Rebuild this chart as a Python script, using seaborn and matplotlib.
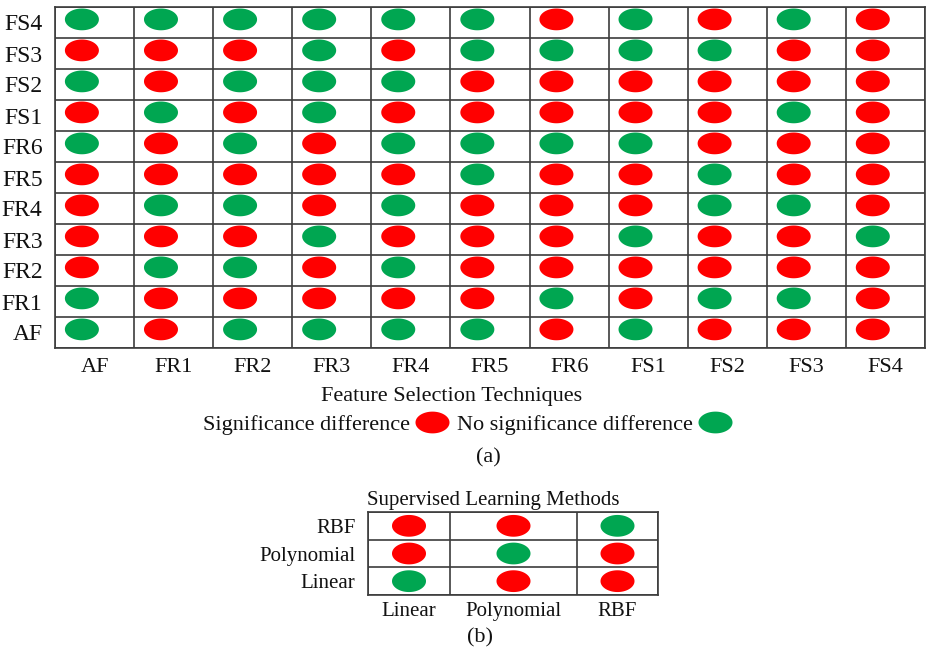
import numpy as np
import pandas as pd
import seaborn as sns
import matplotlib.pyplot as plt
from matplotlib.path import Path
from matplotlib.lines import Line2D

# feature selection techniques (same order on both axes, bottom to top on y)
techniques = ['AF', 'FR1', 'FR2', 'FR3', 'FR4', 'FR5', 'FR6', 'FS1', 'FS2', 'FS3', 'FS4']

# 1 = significance difference (red), 0 = no significance difference (green)
# rows go from AF (bottom) to FS4 (top), columns AF .. FS4
sig_a = [
    [0, 1, 0, 0, 0, 0, 1, 0, 1, 1, 1],  # AF
    [0, 1, 1, 1, 1, 1, 0, 1, 0, 0, 1],  # FR1
    [1, 0, 0, 1, 0, 1, 1, 1, 1, 1, 1],  # FR2
    [1, 1, 1, 0, 1, 1, 1, 0, 1, 1, 0],  # FR3
    [1, 0, 0, 1, 0, 1, 1, 1, 0, 0, 1],  # FR4
    [1, 1, 1, 1, 1, 0, 1, 1, 0, 1, 1],  # FR5
    [0, 1, 0, 1, 0, 0, 0, 0, 1, 1, 1],  # FR6
    [1, 0, 1, 0, 1, 1, 1, 1, 1, 0, 1],  # FS1
    [0, 1, 0, 0, 0, 1, 1, 1, 1, 1, 1],  # FS2
    [1, 1, 1, 0, 1, 0, 0, 0, 0, 1, 1],  # FS3
    [0, 0, 0, 0, 0, 0, 1, 0, 1, 0, 1],  # FS4
]

# supervised learning methods, rows Linear (bottom) .. RBF (top)
methods = ['Linear', 'Polynomial', 'RBF']
sig_b = [
    [0, 1, 1],  # Linear
    [1, 0, 1],  # Polynomial
    [1, 1, 0],  # RBF
]

labels = {1: 'Significance difference', 0: 'No significance difference'}
colors = {'Significance difference': '#ff0000', 'No significance difference': '#00a651'}

sns.set_style('white')
plt.rcParams['font.family'] = ['Liberation Serif', 'DejaVu Serif']
plt.rcParams['text.color'] = '#111111'
plt.rcParams['xtick.color'] = '#111111'
plt.rcParams['ytick.color'] = '#111111'

# ellipse shaped marker
t = np.linspace(0, 2 * np.pi, 80)
ellipse = Path(np.column_stack([np.cos(t), 0.64 * np.sin(t)]), closed=True)
grid_col = '#3c3c3c'

fig = plt.figure(figsize=(9.27, 6.59), dpi=100)

# ---- (a) feature selection techniques grid ----
df_a = pd.DataFrame([(i, j, labels[sig_a[j][i]]) for j in range(len(techniques))
                     for i in range(len(techniques))], columns=['col', 'row', 'result'])
df_a['x'] = df_a['col'] + 0.34
df_a['y'] = df_a['row'] + 0.6

ax_a = fig.add_axes([55 / 927, 1 - 348 / 659, 870 / 927, 341 / 659])
sns.scatterplot(data=df_a, x='x', y='y', hue='result', palette=colors, marker=ellipse,
                s=600, linewidth=0, legend=False, ax=ax_a)
n = len(techniques)
ax_a.set_xlim(0, n)
ax_a.set_ylim(0, n)
ax_a.set_xticks(np.arange(n) + 0.5, techniques, fontsize=16)
ax_a.set_yticks(np.arange(n) + 0.5, techniques, fontsize=17)
ax_a.set_xticks(np.arange(n + 1), minor=True)
ax_a.set_yticks(np.arange(n + 1), minor=True)
ax_a.grid(which='major', visible=False)
ax_a.grid(which='minor', color=grid_col, lw=1.2)
ax_a.set_axisbelow(True)
ax_a.tick_params(which='both', length=0)
ax_a.tick_params(axis='x', pad=7)
ax_a.tick_params(axis='y', pad=9)
ax_a.set_xlabel('')
ax_a.set_ylabel('')
for sp in ax_a.spines.values():
    sp.set_color(grid_col)
    sp.set_linewidth(1.2)

fig.text(452 / 927, 1 - 397 / 659, 'Feature Selection Techniques', ha='center', va='center', fontsize=16)

handles = [Line2D([], [], marker=ellipse, ls='', color=colors[k], markersize=24.5, mew=0)
           for k in colors]
fig.legend(handles, list(colors), loc='center', bbox_to_anchor=(468 / 927, 1 - 425 / 659),
           ncol=2, markerfirst=False, frameon=False, fontsize=16,
           handletextpad=0.2, columnspacing=0.3, handlelength=1.6, borderpad=0)

fig.text(488 / 927, 1 - 458 / 659, '(a)', ha='center', va='center', fontsize=16)

# ---- (b) supervised learning methods grid ----
col_widths = [82, 127, 81]
edges = np.concatenate([[0], np.cumsum(col_widths)])
centers = (edges[:-1] + edges[1:]) / 2

df_b = pd.DataFrame([(i, j, labels[sig_b[j][i]]) for j in range(len(methods))
                     for i in range(len(methods))], columns=['col', 'row', 'result'])
df_b['x'] = centers[df_b['col']]
df_b['y'] = df_b['row'] + 0.5

ax_b = fig.add_axes([368 / 927, 1 - 595 / 659, 290 / 927, 83 / 659])
sns.scatterplot(data=df_b, x='x', y='y', hue='result', palette=colors, marker=ellipse,
                s=600, linewidth=0, legend=False, ax=ax_b)
ax_b.set_xlim(edges[0], edges[-1])
ax_b.set_ylim(0, len(methods))
ax_b.set_xticks(centers, methods, fontsize=15)
ax_b.set_yticks(np.arange(len(methods)) + 0.5, methods, fontsize=15)
ax_b.set_xticks(edges, minor=True)
ax_b.set_yticks(np.arange(len(methods) + 1), minor=True)
ax_b.grid(which='major', visible=False)
ax_b.grid(which='minor', color=grid_col, lw=1.2)
ax_b.set_axisbelow(True)
ax_b.tick_params(which='both', length=0)
ax_b.tick_params(axis='x', pad=5)
ax_b.tick_params(axis='y', pad=9)
ax_b.set_xlabel('')
ax_b.set_ylabel('')
for sp in ax_b.spines.values():
    sp.set_color(grid_col)
    sp.set_linewidth(1.2)

fig.text(493 / 927, 1 - 500 / 659, 'Supervised Learning Methods', ha='center', va='center', fontsize=15)
fig.text(480 / 927, 1 - 638 / 659, '(b)', ha='center', va='center', fontsize=16)

fig.savefig('out.png', dpi=100)
